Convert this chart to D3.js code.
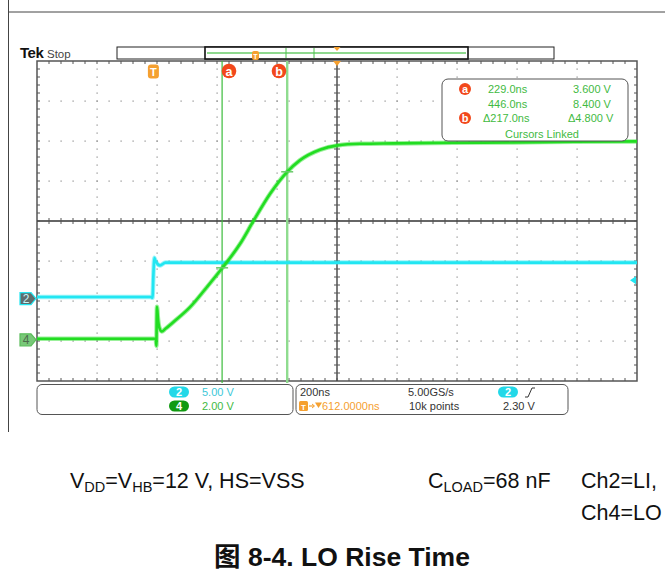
<!DOCTYPE html>
<html><head><meta charset="utf-8">
<script src="https://cdn.jsdelivr.net/npm/d3@7"></script>
<style>
body{margin:0;background:#fff}
svg{display:block}
text{font-family:"Liberation Sans",Arial,"Noto Sans CJK SC",sans-serif}
</style>
</head><body>
<svg id="c" width="665" height="577"></svg>
<script>
// ---- data ----
const timePerDiv = 200;          // ns / div
const horizDelay = 612;          // ns (trigger -> centre)
const ch2VoltsPerDiv = 5.00;
const ch4VoltsPerDiv = 2.00;
const ch2Position = -1.94;       // divisions (ground marker)
const ch4Position = -2.97;
const triggerLevel = 2.30;       // V on ch2

const ch2Time  = [-388, -8, -3, 0, 3, 6, 12, 22, 40, 1612];
const ch2Volts = [0.2, 0.2, 0.1, 3.0, 5.1, 4.8, 4.4, 4.15, 4.5, 4.5];

const ch4Time  = [-388, 8, 10, 11, 12, 15, 20, 28, 40, 66, 122, 178, 230, 289, 333, 389, 446, 488, 555, 614, 689, 800, 1000, 1200, 1400, 1612];
const ch4Volts = [0.05, 0.05, -0.3, 1.0, 1.65, 1.1, 0.6, 0.42, 0.55, 0.88, 1.63, 2.63, 3.6, 4.8, 5.93, 7.3, 8.4, 8.97, 9.5, 9.72, 9.8, 9.82, 9.85, 9.87, 9.9, 9.92];

const cursorNames = ["a", "b"];
const cursorTimes = [229, 446];
const cursorVolts = [3.6, 8.4];
const cursorTimeLabels = ["229.0ns", "446.0ns", "\u0394217.0ns"];
const cursorVoltLabels = ["3.600 V", "8.400 V", "\u03944.800 V"];

const channelLabels = ["2", "4"];
const channelScaleLabels = ["5.00 V", "2.00 V"];
const acqLabels = ["200ns", "612.0000ns", "5.00GS/s", "10k points", "2.30 V"];

// ---- layout ----
const svg = d3.select("#c");
const G = {x0: 37, x1: 637, y0: 61, y1: 381};
const x = d3.scaleLinear().domain([horizDelay - 5 * timePerDiv, horizDelay + 5 * timePerDiv]).range([G.x0, G.x1]);
const yDiv = d3.scaleLinear().domain([-4, 4]).range([G.y1, G.y0]);
const y2 = v => yDiv(v / ch2VoltsPerDiv + ch2Position);
const y4 = v => yDiv(v / ch4VoltsPerDiv + ch4Position);

const CYAN = "#22e6f2", GREEN = "#22dd22", ORANGE = "#f5a030", RED = "#f04418", TXTG = "#3fba3f";

// page frame
svg.append("line").attr("x1", 8).attr("x2", 665).attr("y1", 12).attr("y2", 12).attr("stroke", "#444").attr("stroke-width", 1);
svg.append("line").attr("x1", 8.5).attr("x2", 8.5).attr("y1", 0).attr("y2", 432).attr("stroke", "#444").attr("stroke-width", 1);

// header
svg.append("text").attr("x", 20).attr("y", 58).attr("font-family", "Liberation Serif, DejaVu Serif, serif")
  .attr("font-weight", "bold").attr("font-size", 15).attr("letter-spacing", -0.5).attr("fill", "#111").text("Tek");
svg.append("text").attr("x", 47).attr("y", 58).attr("font-size", 11.5).attr("fill", "#444").text("Stop");

// record bar
svg.append("rect").attr("x", 117).attr("y", 47).attr("width", 437).attr("height", 12).attr("fill", "#fff").attr("stroke", "#222").attr("stroke-width", 1);
svg.append("rect").attr("x", 205).attr("y", 47).attr("width", 263).attr("height", 12).attr("fill", "#fff").attr("stroke", "#111").attr("stroke-width", 1.6);
svg.append("line").attr("x1", 207).attr("x2", 466).attr("y1", 53).attr("y2", 53).attr("stroke", "#8fd98f").attr("stroke-width", 2);
[286, 314].forEach(px => svg.append("line").attr("x1", px).attr("x2", px).attr("y1", 48).attr("y2", 58).attr("stroke", "#4cc04c").attr("stroke-width", 1));
svg.append("rect").attr("x", 252).attr("y", 51).attr("width", 7).attr("height", 9).attr("rx", 2).attr("fill", ORANGE);
svg.append("text").attr("x", 255.5).attr("y", 58.5).attr("text-anchor", "middle").attr("font-size", 7).attr("font-weight", "bold").attr("fill", "#fff").text("T");
svg.append("path").attr("d", `M${x(horizDelay)-3.5},47 L${x(horizDelay)+3.5},47 L${x(horizDelay)},51 Z`).attr("fill", ORANGE);

// ---- graticule ----
const grid = svg.append("g");
grid.append("rect").attr("x", G.x0).attr("y", G.y0).attr("width", G.x1 - G.x0).attr("height", G.y1 - G.y0)
  .attr("fill", "#fff").attr("stroke", "#555").attr("stroke-width", 1.5);
const minorX = d3.range(1, 50).map(i => G.x0 + i * 12);
const minorY = d3.range(1, 40).map(i => G.y0 + i * 8);
const majorX = d3.range(1, 10).filter(i => i !== 5).map(i => G.x0 + i * 60);
const majorY = d3.range(1, 8).filter(i => i !== 4).map(i => G.y0 + i * 40);
majorX.forEach(px => minorY.forEach(py => grid.append("rect").attr("x", px - 0.5).attr("y", py - 0.5).attr("width", 1.2).attr("height", 1.2).attr("fill", "#8a8a8a")));
majorY.forEach(py => minorX.forEach(px => grid.append("rect").attr("x", px - 0.5).attr("y", py - 0.5).attr("width", 1.2).attr("height", 1.2).attr("fill", "#8a8a8a")));
const cx = (G.x0 + G.x1) / 2, cy = (G.y0 + G.y1) / 2;
grid.append("line").attr("x1", cx).attr("x2", cx).attr("y1", G.y0).attr("y2", G.y1).attr("stroke", "#333").attr("stroke-width", 1.3);
grid.append("line").attr("x1", G.x0).attr("x2", G.x1).attr("y1", cy).attr("y2", cy).attr("stroke", "#333").attr("stroke-width", 1.3);
minorY.forEach(py => grid.append("line").attr("x1", cx - 3).attr("x2", cx + 3).attr("y1", py).attr("y2", py).attr("stroke", "#555").attr("stroke-width", 1));
minorX.forEach(px => grid.append("line").attr("x1", px).attr("x2", px).attr("y1", cy - 3).attr("y2", cy + 3).attr("stroke", "#555").attr("stroke-width", 1));
minorX.forEach(px => {
  grid.append("line").attr("x1", px).attr("x2", px).attr("y1", G.y0).attr("y2", G.y0 + 3).attr("stroke", "#555");
  grid.append("line").attr("x1", px).attr("x2", px).attr("y1", G.y1 - 3).attr("y2", G.y1).attr("stroke", "#555");
});
minorY.forEach(py => {
  grid.append("line").attr("x1", G.x0).attr("x2", G.x0 + 3).attr("y1", py).attr("y2", py).attr("stroke", "#555");
  grid.append("line").attr("x1", G.x1 - 3).attr("x2", G.x1).attr("y1", py).attr("y2", py).attr("stroke", "#555");
});

svg.append("clipPath").attr("id", "clip").append("rect").attr("x", G.x0).attr("y", G.y0).attr("width", G.x1 - G.x0).attr("height", G.y1 - G.y0);

// cursors
const cursorColors = ["#3cbc3c", "#8fdc8f"];
const cursorWidths = [1.2, 2.4];
cursorTimes.forEach((t, i) => {
  svg.append("line").attr("x1", x(t)).attr("x2", x(t)).attr("y1", G.y0).attr("y2", G.y1 + 2)
    .attr("stroke", cursorColors[i]).attr("stroke-width", cursorWidths[i]);
});

// traces
const traces = svg.append("g").attr("clip-path", "url(#clip)");
const line2 = d3.line().x(d => x(d[0])).y(d => y2(d[1])).curve(d3.curveMonotoneX);
const line4 = d3.line().x(d => x(d[0])).y(d => y4(d[1])).curve(d3.curveMonotoneX);
const d2 = ch2Time.map((t, i) => [t, ch2Volts[i]]);
const d4 = ch4Time.map((t, i) => [t, ch4Volts[i]]);
traces.append("path").attr("d", line2(d2)).attr("fill", "none").attr("stroke", CYAN).attr("stroke-width", 4.5).attr("opacity", 0.45);
traces.append("path").attr("d", line2(d2)).attr("fill", "none").attr("stroke", CYAN).attr("stroke-width", 2.6);
traces.append("path").attr("d", line4(d4)).attr("fill", "none").attr("stroke", GREEN).attr("stroke-width", 4.5).attr("opacity", 0.45);
traces.append("path").attr("d", line4(d4)).attr("fill", "none").attr("stroke", GREEN).attr("stroke-width", 2.6);

// cursor crossing marks
cursorTimes.forEach((t, i) => {
  svg.append("line").attr("x1", x(t) - 6).attr("x2", x(t) + 6).attr("y1", y4(cursorVolts[i])).attr("y2", y4(cursorVolts[i]))
    .attr("stroke", "#6cc86c").attr("stroke-width", 1.5);
});

// top-of-graticule markers
svg.append("path").attr("d", `M${x(horizDelay)-4},${G.y0} L${x(horizDelay)+4},${G.y0} L${x(horizDelay)},${G.y0+5} Z`).attr("fill", ORANGE);
svg.append("rect").attr("x", x(0) - 5.5).attr("y", 64.5).attr("width", 11).attr("height", 14).attr("rx", 3).attr("fill", ORANGE);
svg.append("text").attr("x", x(0)).attr("y", 75.5).attr("text-anchor", "middle").attr("font-size", 11).attr("font-weight", "bold").attr("fill", "#fff").text("T");
const cursorMarkX = [229, 279];
cursorNames.forEach((n, i) => {
  svg.append("circle").attr("cx", cursorMarkX[i]).attr("cy", 71).attr("r", 7.3).attr("fill", "#f2481c");
  svg.append("text").attr("x", cursorMarkX[i]).attr("y", 75.5).attr("text-anchor", "middle").attr("font-size", 12.5).attr("font-weight", "bold").attr("fill", "#fff").text(n);
});

// trigger level marker (right)
const ty = y2(triggerLevel);
svg.append("path").attr("d", `M${G.x1 - 1},${ty - 4} L${G.x1 - 1},${ty + 4} L${G.x1 - 7},${ty} Z`).attr("fill", CYAN);

// channel ground markers
function groundMarker(yy, fill, stroke, label, tcol) {
  svg.append("path").attr("d", `M20,${yy - 6} L31,${yy - 6} L36,${yy} L31,${yy + 6} L20,${yy + 6} Z`)
    .attr("fill", fill).attr("stroke", stroke).attr("stroke-width", 1.2);
  svg.append("text").attr("x", 26).attr("y", yy + 4.5).attr("text-anchor", "middle").attr("font-size", 12).attr("fill", tcol).text(label);
}
groundMarker(y2(0), "#5f6d6d", CYAN, channelLabels[0], "#c8f4f8");
groundMarker(y4(0), "#78c878", "#5bbd5b", channelLabels[1], "#4c6c4c");

// cursor readout box
svg.append("rect").attr("x", 442).attr("y", 79).attr("width", 186).attr("height", 62).attr("rx", 6).attr("fill", "#fff").attr("stroke", "#555").attr("stroke-width", 1);
const rowY = [93, 107.5, 122];
[0, 2].forEach((r, i) => {
  svg.append("circle").attr("cx", 465).attr("cy", rowY[r] - 4).attr("r", 6).attr("fill", "#f2481c");
  svg.append("text").attr("x", 465).attr("y", rowY[r]).attr("text-anchor", "middle").attr("font-size", 11).attr("font-weight", "bold").attr("fill", "#fff").text(cursorNames[i]);
});
const tx = [488, 488, 483], vx = [573, 573, 568];
rowY.forEach((yy, r) => {
  svg.append("text").attr("x", tx[r]).attr("y", yy).attr("font-size", 11).attr("fill", TXTG).text(cursorTimeLabels[r]);
  svg.append("text").attr("x", vx[r]).attr("y", yy).attr("font-size", 11).attr("fill", TXTG).text(cursorVoltLabels[r]);
});
svg.append("text").attr("x", 542).attr("y", 137.5).attr("text-anchor", "middle").attr("font-size", 11).attr("fill", TXTG).text("Cursors Linked");

// bottom status boxes
svg.append("rect").attr("x", 37).attr("y", 384.5).attr("width", 256).attr("height", 30).attr("rx", 5).attr("fill", "#fff").attr("stroke", "#555");
svg.append("rect").attr("x", 296).attr("y", 384.5).attr("width", 272).attr("height", 30).attr("rx", 5).attr("fill", "#fff").attr("stroke", "#555");
function pill(cxp, cyp, fill, label) {
  svg.append("rect").attr("x", cxp - 10).attr("y", cyp - 5.5).attr("width", 20).attr("height", 11).attr("rx", 5.5).attr("fill", fill);
  svg.append("text").attr("x", cxp).attr("y", cyp + 4).attr("text-anchor", "middle").attr("font-size", 11).attr("font-weight", "bold").attr("fill", "#fff").text(label);
}
pill(179, 392, "#22d8e8", channelLabels[0]);
pill(179, 406, "#119a11", channelLabels[1]);
svg.append("text").attr("x", 202).attr("y", 396).attr("font-size", 11).attr("fill", "#3cc8d8").text(channelScaleLabels[0]);
svg.append("text").attr("x", 202).attr("y", 410).attr("font-size", 11).attr("fill", TXTG).text(channelScaleLabels[1]);

svg.append("text").attr("x", 300).attr("y", 396).attr("font-size", 11).attr("fill", "#333").text(acqLabels[0]);
svg.append("rect").attr("x", 299).attr("y", 401).attr("width", 9).attr("height", 10).attr("rx", 1.5).attr("fill", ORANGE);
svg.append("text").attr("x", 303.5).attr("y", 409.5).attr("text-anchor", "middle").attr("font-size", 8).attr("font-weight", "bold").attr("fill", "#fff").text("T");
svg.append("path").attr("d", "M309,406 L314,406").attr("stroke", ORANGE).attr("stroke-width", 1.2);
svg.append("path").attr("d", "M312,404 L314.5,406 L312,408").attr("stroke", ORANGE).attr("fill", "none").attr("stroke-width", 1);
svg.append("path").attr("d", "M315,402.5 L322,402.5 L318.5,408 Z").attr("fill", ORANGE);
svg.append("text").attr("x", 322).attr("y", 410).attr("font-size", 11).attr("fill", ORANGE).text(acqLabels[1]);
svg.append("text").attr("x", 408).attr("y", 396).attr("font-size", 11).attr("fill", "#333").text(acqLabels[2]);
svg.append("text").attr("x", 409).attr("y", 410).attr("font-size", 11).attr("fill", "#333").text(acqLabels[3]);
pill(508, 392, "#22d8e8", channelLabels[0]);
svg.append("path").attr("d", "M525,397 L528,397 L532,388 L535,388").attr("stroke", "#333").attr("fill", "none").attr("stroke-width", 1);
svg.append("text").attr("x", 503).attr("y", 410).attr("font-size", 11).attr("fill", "#333").text(acqLabels[4]);

// captions
const CAP = 21.5;
function sub(parts, xx, yy) {
  const el = svg.append("text").attr("x", xx).attr("y", yy).attr("font-size", CAP).attr("fill", "#111");
  parts.forEach(p => {
    if (p.s) el.append("tspan").attr("font-size", 14.5).attr("dy", 4).text(p.t);
    else el.append("tspan").attr("dy", p.back ? -4 : 0).text(p.t);
  });
}
sub([{t: "V"}, {t: "DD", s: 1}, {t: "=V", back: 1}, {t: "HB", s: 1}, {t: "=12 V, HS=VSS", back: 1}], 70, 488);
sub([{t: "C"}, {t: "LOAD", s: 1}, {t: "=68 nF", back: 1}], 428, 488);
svg.append("text").attr("x", 581).attr("y", 488).attr("font-size", CAP).attr("fill", "#111").text("Ch2=LI,");
svg.append("text").attr("x", 581).attr("y", 520).attr("font-size", CAP).attr("fill", "#111").text("Ch4=LO");
svg.append("text").attr("x", 342).attr("y", 566).attr("text-anchor", "middle").attr("font-size", 26.5).attr("font-weight", "bold").attr("fill", "#111").text("图 8-4. LO Rise Time");
</script>
</body></html>
